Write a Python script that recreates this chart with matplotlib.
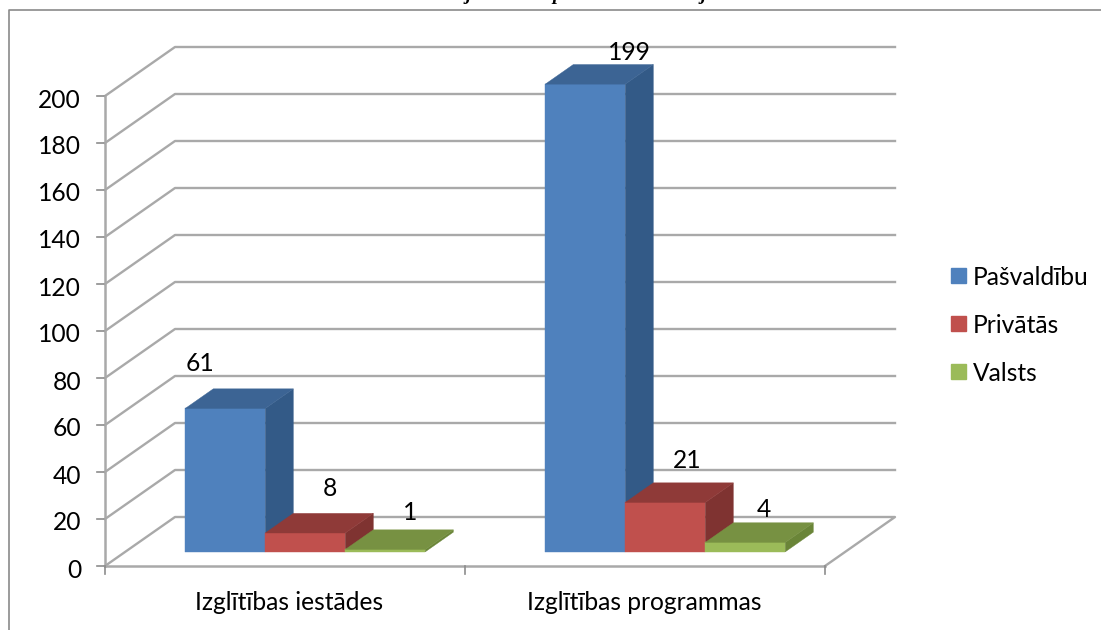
import matplotlib
matplotlib.use("Agg")
import matplotlib.pyplot as plt
from matplotlib.lines import Line2D
from matplotlib.patches import Rectangle

plt.rcParams['font.family'] = ['Lato', 'DejaVu Sans']

categories = ['Izglītības iestādes', 'Izglītības programmas']
series_names = ['Pašvaldību', 'Privātās', 'Valsts']
pasvaldibu = [61, 199]
privatas = [8, 21]
valsts = [1, 4]
y_ticks = list(range(0, 201, 20))

W, H = 1101, 630
fig = plt.figure(figsize=(W / 100, H / 100), dpi=100)
ax = fig.add_axes([105 / W, 1 - 566 / H, 720 / W, 470 / H])
ax.set_xlim(0, 2)
ax.set_ylim(0, 200)
ax.axis('off')

# slipais 3d: dzilums uz labo augsu
px_x = 2 / 720
px_y = 200 / 470
dx = 70 * px_x
dy = 49 * px_y
grid_c = '#a9a9a9'
fs = 17.7

# datu etiketes originala ir roku novietotas (nobide pikselos no stabina kreisas malas / augsas)
label_dx = [[15, 84], [65, 62], [65, 59]]
label_dy = [[27, 14], [27, 24], [19, 15]]


def pr(x, v, d):
    return x + d * dx, v + d * dy


def face(pts, c):
    xs = [p[0] for p in pts]
    ys = [p[1] for p in pts]
    ax.fill(xs, ys, color=c, lw=0.3, clip_on=False, zorder=3)


def box(x, w, v, front, side, top):
    d0, d1 = 0.29, 0.69
    face([pr(x, 0, d0), pr(x + w, 0, d0), pr(x + w, v, d0), pr(x, v, d0)], front)
    face([pr(x + w, 0, d0), pr(x + w, 0, d1), pr(x + w, v, d1), pr(x + w, v, d0)], side)
    face([pr(x, v, d0), pr(x + w, v, d0), pr(x + w, v, d1), pr(x, v, d1)], top)


# rezgis
for t in y_ticks:
    xs, ys = zip(pr(0, t, 0), pr(0, t, 1), pr(2, t, 1))
    if t == 0:
        xs, ys = zip(pr(0, t, 0), pr(0, t, 1), pr(2, t, 1), pr(2, t, 0))
    ax.plot(xs, ys, color=grid_c, lw=1.7, clip_on=False, zorder=1)
    ax.plot([-8 * px_x, 0], [t, t], color='#8c8c8c', lw=1.2, clip_on=False, zorder=1)
    ax.text(-24 * px_x, t - 2 * px_y, str(t), ha='right', va='center_baseline', fontsize=fs, color='black')

ax.plot([0, 0], [0, 200], color=grid_c, lw=1.8, clip_on=False, zorder=2)
ax.plot([0, 2], [0, 0], color=grid_c, lw=1.8, clip_on=False, zorder=2)
for i in range(3):
    ax.plot([i, i], [0, -8 * px_y], color='#8c8c8c', lw=1.2, clip_on=False, zorder=2)

colors = [('#4f81bd', '#335a87', '#3c6494'),
          ('#c0504d', '#7f3331', '#8f3a38'),
          ('#9bbb59', '#6a8538', '#779142')]
w = 80 * px_x
for c in range(2):
    for s, vals in enumerate([pasvaldibu, privatas, valsts]):
        x = c + 60 * px_x + s * w
        box(x, w, vals[c], *colors[s])
        lx, ly = pr(x, vals[c], 0.69)
        ax.text(pr(x, 0, 0.29)[0] + label_dx[s][c] * px_x, ly + label_dy[s][c] * px_y, str(vals[c]),
                ha='center', va='center_baseline', fontsize=fs, color='black', clip_on=False, zorder=5)
    ax.text(c + 0.5 + (4 - c * 5) * px_x, -35 * px_y, categories[c], ha='center', va='center_baseline', fontsize=fs)

# legenda
for s, name in enumerate(series_names):
    y = 275.5 + s * 48
    fig.add_artist(Rectangle((951 / W, 1 - (y + 7.5) / H), 15 / W, 15 / H,
                             color=colors[s][0], transform=fig.transFigure))
    fig.text(973 / W, 1 - y / H, name, ha='left', va='center_baseline', fontsize=fs)

# ramis: augsa un kreisa mala, pa labi un apaksa nogriezts
fig.add_artist(Line2D([8.5 / W, 8.5 / W, 1], [0, 1 - 10 / H, 1 - 10 / H], color='#8a8a8a', lw=1.2,
                      transform=fig.transFigure))

# virsraksta apaksdala, nogriezta pie attela malas
for tx, ch in [(468, 'j'), (557, 'p'), (703, 'j')]:
    fig.text(tx / W, 1 - 0.5 / H, ch, ha='center', va='baseline', fontsize=14,
             family='Liberation Serif', style='italic', weight='bold')

fig.savefig('out.png', dpi=100)
